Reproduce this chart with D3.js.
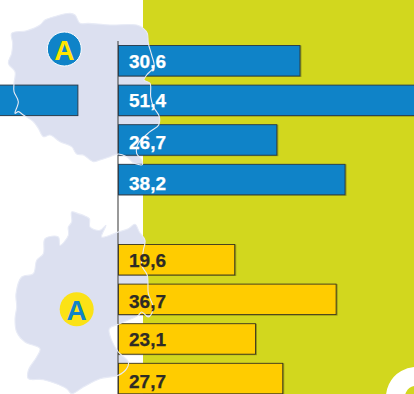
<!DOCTYPE html>
<html><head><meta charset="utf-8">
<script src="https://cdnjs.cloudflare.com/ajax/libs/d3/7.8.5/d3.min.js"></script>
<style>html,body{margin:0;padding:0;background:#fff;overflow:hidden}svg{display:block}</style>
</head><body><svg id="c" width="414" height="394"></svg>
<script>
const plValues=[30.6,51.4,26.7,38.2];
const deValues=[19.6,36.7,23.1,27.7];
const strayBar=[-30,-6.85];
const badgeLabel="A";
const plOutline=[[210,40],[225,45],[240,70],[265,70],[330,75],[410,75],[430,85],[442,100],[445,130],[455,165],[462,200],[440,225],[432,240],[450,250],[452,290],[460,320],[478,350],[476,375],[450,395],[415,430],[410,460],[425,480],[427,494],[400,488],[380,470],[355,462],[330,470],[300,480],[280,485],[250,465],[230,462],[215,440],[180,425],[150,405],[130,410],[115,385],[100,365],[70,345],[55,335],[45,340],[55,305],[42,275],[42,250],[45,215],[25,190],[35,160],[38,130],[35,100],[80,92],[120,75],[135,60],[170,48]];
const deOutline=[[215,45],[235,50],[250,55],[268,65],[270,90],[300,100],[318,85],[305,120],[355,105],[385,95],[405,82],[418,105],[435,130],[430,160],[425,205],[442,235],[445,290],[460,335],[445,360],[425,345],[415,355],[355,382],[328,395],[335,430],[355,465],[385,495],[380,515],[355,535],[300,545],[250,570],[215,590],[200,575],[130,548],[85,545],[85,520],[110,480],[120,455],[75,435],[50,405],[45,365],[50,330],[48,290],[65,240],[100,230],[110,190],[130,170],[135,125],[175,120],[180,145],[205,115],[205,90],[215,75]];

const svg=d3.select("#c");
const x=d3.scaleLinear().domain([0,10]).range([118.5,177.8]);
const plY=d3.scaleBand().domain(d3.range(4)).range([45.5,194.8]).paddingInner(.23).paddingOuter(0);
const deY=d3.scaleBand().domain(d3.range(4)).range([244.5,393.8]).paddingInner(.23).paddingOuter(0);
const line=d3.line().curve(d3.curveCatmullRomClosed.alpha(0.5));
const plPath=line(plOutline.map(p=>[p[0]/3,p[1]/3]));
const dePath=line(deOutline.map(p=>[p[0]/3,p[1]/3+197]));

svg.append("rect").attr("x",143).attr("y",0).attr("width",271).attr("height",394).attr("fill","#d2d71e");
svg.append("path").attr("d",plPath).attr("fill","#dce0f0");
svg.append("path").attr("d",dePath).attr("fill","#dce0f0");
svg.append("path").attr("d",d3.arc()({innerRadius:11,outerRadius:30,startAngle:-Math.PI*0.75,endAngle:0.1})).attr("transform","translate(416,397)").attr("fill","#fff");
svg.append("line").attr("x1",118).attr("x2",118).attr("y1",41).attr("y2",394).attr("stroke","#555").attr("stroke-width",1.2);

function bars(vals,y,fill,stroke){
  const g=svg.append("g");
  g.selectAll("rect.s").data(vals).join("rect").attr("class","s")
    .attr("x",x(0)).attr("y",(d,i)=>y(i)).attr("width",d=>x(d)-x(0)+1.5).attr("height",y.bandwidth()+1)
    .attr("fill","#000").attr("opacity",.28);
  g.selectAll("rect.b").data(vals).join("rect").attr("class","b")
    .attr("x",x(0)).attr("y",(d,i)=>y(i)).attr("width",d=>x(d)-x(0)).attr("height",y.bandwidth())
    .attr("fill",fill).attr("stroke",stroke).attr("stroke-width",.9);
}
svg.append("rect").attr("x",x(strayBar[0])).attr("y",plY(1)).attr("width",x(strayBar[1])-x(strayBar[0])).attr("height",plY.bandwidth())
  .attr("fill","#0f83c8").attr("stroke","#2a3d4d").attr("stroke-width",1);
bars(plValues,plY,"#0f83c8","#27394a");
bars(deValues,deY,"#ffcc00","#3a3520");

svg.append("path").attr("d",plPath).attr("fill","none").attr("stroke","#e8ebf6").attr("stroke-width",1.1);
svg.append("path").attr("d",dePath).attr("fill","none").attr("stroke","#e8ebf6").attr("stroke-width",1.1);

function labels(vals,y,color,nudge){
  svg.append("g").selectAll("text").data(vals).join("text")
    .attr("x",129).attr("y",(d,i)=>y(i)+y.bandwidth()/2+7+nudge[i])
    .attr("font-family","Liberation Sans").attr("font-weight","700").attr("font-size",19)
    .attr("stroke",color).attr("stroke-width",.25)
    .attr("fill",color).text(d=>d3.format(".1f")(d).replace(".",","));
}
labels(plValues,plY,"#fff",[0.5,0,2,3]);
labels(deValues,deY,"#2e2b26",[0,1.7,0,2]);

function badge(cx,cy,bg,fg,ring){
  svg.append("circle").attr("cx",cx).attr("cy",cy).attr("r",17).attr("fill",bg).attr("stroke",ring).attr("stroke-width",ring==="none"?0:1);
  svg.append("text").attr("x",cx).attr("y",cy+10.7).attr("text-anchor","middle")
    .attr("font-family","Liberation Sans").attr("font-weight","700").attr("font-size",28).attr("fill",fg).text(badgeLabel);
}
badge(64.3,49,"#0f83c8","#ffe600","#fff");
badge(76.7,309.3,"#fbe216","#0f83c8","none");
</script></body></html>
